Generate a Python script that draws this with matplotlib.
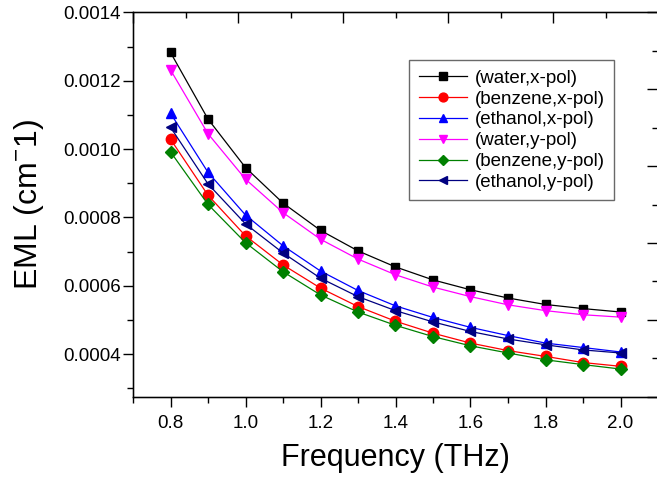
import numpy as np
import matplotlib
matplotlib.use('Agg')
import matplotlib.pyplot as plt
from matplotlib.ticker import MultipleLocator

plt.rcParams['font.family'] = ['Liberation Sans', 'DejaVu Sans']
plt.rcParams['mathtext.fontset'] = 'custom'
plt.rcParams['mathtext.rm'] = 'Liberation Sans'

# frequency (THz)
freq = [0.8, 0.9, 1.0, 1.1, 1.2, 1.3, 1.4, 1.5, 1.6, 1.7, 1.8, 1.9, 2.0]

# EML (cm^-1)
water_x   = [0.001283, 0.001088, 0.000946, 0.000842, 0.000762, 0.000702, 0.000655,
             0.000617, 0.000588, 0.000564, 0.000545, 0.000533, 0.000523]
benzene_x = [0.001029, 0.000865, 0.000746, 0.000661, 0.000593, 0.000539, 0.000496,
             0.000461, 0.000432, 0.000410, 0.000393, 0.000375, 0.000364]
ethanol_x = [0.001105, 0.000932, 0.000807, 0.000717, 0.000643, 0.000586, 0.000541,
             0.000507, 0.000478, 0.000454, 0.000432, 0.000419, 0.000406]
water_y   = [0.001232, 0.001045, 0.000912, 0.000814, 0.000736, 0.000678, 0.000632,
             0.000596, 0.000568, 0.000544, 0.000527, 0.000515, 0.000508]
benzene_y = [0.000992, 0.000838, 0.000726, 0.000641, 0.000573, 0.000523, 0.000484,
             0.000451, 0.000424, 0.000403, 0.000383, 0.000369, 0.000356]
ethanol_y = [0.001064, 0.000898, 0.000781, 0.000696, 0.000622, 0.000568, 0.000527,
             0.000494, 0.000466, 0.000444, 0.000427, 0.000412, 0.000403]

series = [
    ('(water,x-pol)', water_x, 'black', 's'),
    ('(benzene,x-pol)', benzene_x, 'red', 'o'),
    ('(ethanol,x-pol)', ethanol_x, 'blue', '^'),
    ('(water,y-pol)', water_y, 'magenta', 'v'),
    ('(benzene,y-pol)', benzene_y, '#008000', 'D'),
    ('(ethanol,y-pol)', ethanol_y, '#000080', '<'),
]

fig = plt.figure(figsize=(6.57, 4.79), dpi=100)
ax = fig.add_axes([133/657, 1-396.7/479, 525/657, 384.2/479])

for lab, vals, col, mk in series:
    ms = 6 if mk in ('s', 'D') else 7.5
    ax.plot(freq, vals, color=col, marker=mk, ms=ms, lw=0.9, label=lab)

ax.set_xlim(0.7, 2.1)
ax.set_ylim(0.000275, 0.0014)
ax.xaxis.set_major_locator(MultipleLocator(0.2))
ax.xaxis.set_minor_locator(MultipleLocator(0.1))
ax.yaxis.set_major_locator(MultipleLocator(0.0002))
ax.yaxis.set_minor_locator(MultipleLocator(0.0001))
ax.xaxis.set_major_formatter(plt.FormatStrFormatter('%.1f'))
ax.yaxis.set_major_formatter(plt.FormatStrFormatter('%.4f'))
ax.tick_params(which='major', direction='out', length=7.5, width=1, labelsize=13.5)
ax.tick_params(which='minor', direction='out', length=4, width=1)
ax.tick_params(axis='x', which='major', pad=5.5)
ax.tick_params(axis='y', which='major', pad=1.5)
ax.tick_params(top=False, right=False)
for s in ax.spines.values():
    s.set_linewidth(1)

ax.set_xlabel('Frequency (THz)', fontsize=22, labelpad=8)
ax.set_ylabel(r'EML (cm$^{\mathregular{-}}$1)', fontsize=23, labelpad=12)

# top and right frame ticks (independent divisions, inward)
axt = ax.twiny()
axt.set_xlim(0, 5)
axt.xaxis.set_major_locator(MultipleLocator(1))
axt.xaxis.set_minor_locator(MultipleLocator(0.5))
axt.tick_params(axis='x', which='major', direction='in', length=8, width=1, labeltop=False)
axt.tick_params(axis='x', which='minor', direction='in', length=4, width=1)

axr = ax.twinx()
axr.set_ylim(0, 5)
axr.yaxis.set_major_locator(MultipleLocator(1))
axr.yaxis.set_minor_locator(MultipleLocator(0.5))
axr.tick_params(axis='y', which='major', direction='in', length=8, width=1, labelright=False)
axr.tick_params(axis='y', which='minor', direction='in', length=4, width=1)

leg = ax.legend(loc='upper left', bbox_to_anchor=(0.526, 0.876), borderaxespad=0,
                fontsize=13.5, frameon=True, fancybox=False, edgecolor='#444444',
                handlelength=2.6, labelspacing=0.2, markerscale=0.85,
                borderpad=0.5, handletextpad=0.4)
leg.get_frame().set_linewidth(1)

fig.savefig('out.png', dpi=100)
